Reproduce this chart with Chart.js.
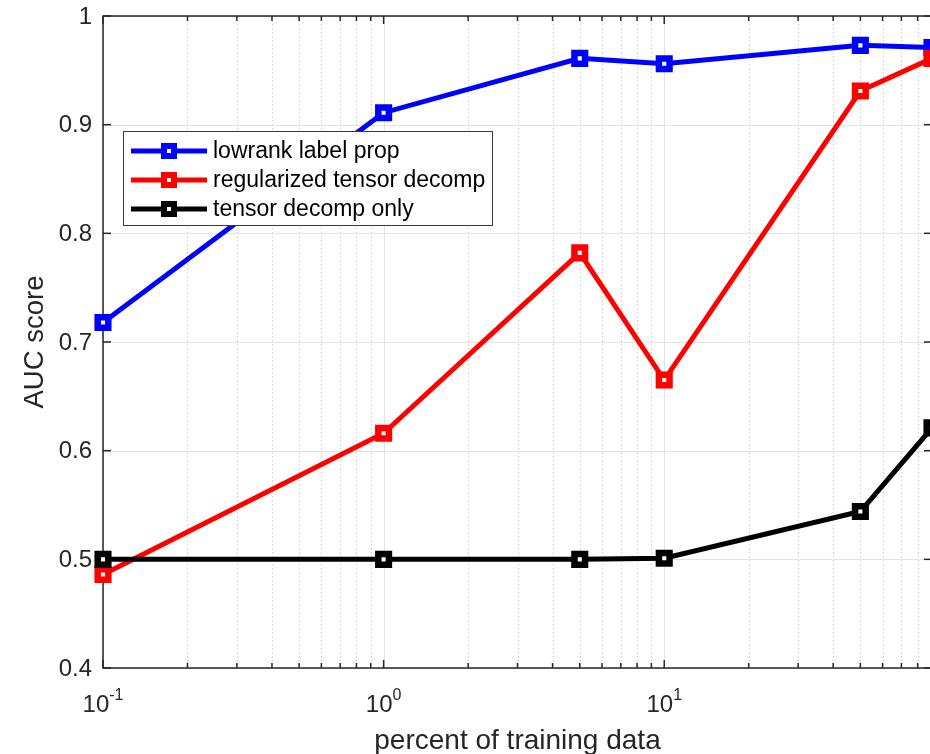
<!DOCTYPE html>
<html>
<head>
<meta charset="utf-8">
<script src="https://cdn.jsdelivr.net/npm/chart.js@4"></script>
<style>
  html, body { margin: 0; padding: 0; background: #fff; overflow: hidden; }
  #auc { display: block; }
</style>
</head>
<body>
<canvas id="auc" width="936" height="754"></canvas>
<script>
// percent of training data (log axis)
const trainPercent = [0.1, 1, 5, 10, 50, 90];

const lowrankLabelProp = [0.718, 0.911, 0.961, 0.956, 0.973, 0.971];
const regularizedTensorDecomp = [0.486, 0.616, 0.782, 0.665, 0.931, 0.961];
const tensorDecompOnly = [0.5, 0.5, 0.5, 0.501, 0.544, 0.621];

const seriesNames = ["lowrank label prop", "regularized tensor decomp", "tensor decomp only"];
const seriesColors = ["#0000ff", "#ff0000", "#000000"];

const yTicks = [0.4, 0.5, 0.6, 0.7, 0.8, 0.9, 1];
const yTickLabels = ["0.4", "0.5", "0.6", "0.7", "0.8", "0.9", "1"];
const xDecades = [0.1, 1, 10];
const xDecadeExponents = ["-1", "0", "1"];
const xMinorTicks = [0.2, 0.3, 0.4, 0.5, 0.6, 0.7, 0.8, 0.9,
                     2, 3, 4, 5, 6, 7, 8, 9,
                     20, 30, 40, 50, 60, 70, 80];

const FONT = "'Liberation Sans', Arial, Helvetica, sans-serif";
const AXIS = "#262626";

function toPoints(ys) {
  return ys.map((v, i) => ({ x: trainPercent[i], y: v }));
}

function seg(ctx, x1, y1, x2, y2) {
  ctx.beginPath();
  ctx.moveTo(x1, y1);
  ctx.lineTo(x2, y2);
  ctx.stroke();
}

// grid, box, inward ticks and tick labels (drawn under the lines)
const axesFrame = {
  id: "axesFrame",
  beforeDatasetsDraw(chart) {
    const { ctx, chartArea: a, scales: { x, y } } = chart;
    ctx.save();

    ctx.lineWidth = 1;
    ctx.strokeStyle = "#cfcfcf";
    ctx.setLineDash([1.5, 2.5]);
    xMinorTicks.forEach((v) => {
      const px = Math.round(x.getPixelForValue(v)) + 0.5;
      seg(ctx, px, a.top, px, a.bottom);
    });
    ctx.setLineDash([]);

    ctx.strokeStyle = "#e3e3e3";
    xDecades.forEach((v) => {
      const px = Math.round(x.getPixelForValue(v)) + 0.5;
      seg(ctx, px, a.top, px, a.bottom);
    });
    yTicks.forEach((v) => {
      const py = Math.round(y.getPixelForValue(v)) + 0.5;
      seg(ctx, a.left, py, a.right, py);
    });

    ctx.strokeStyle = AXIS;
    ctx.lineWidth = 1.5;
    ctx.strokeRect(a.left, a.top, a.right - a.left, a.bottom - a.top);

    // ticks point into the plot
    const major = 8, minor = 5;
    xDecades.forEach((v) => {
      const px = x.getPixelForValue(v);
      seg(ctx, px, a.bottom, px, a.bottom - major);
      seg(ctx, px, a.top, px, a.top + major);
    });
    xMinorTicks.forEach((v) => {
      const px = x.getPixelForValue(v);
      seg(ctx, px, a.bottom, px, a.bottom - minor);
      seg(ctx, px, a.top, px, a.top + minor);
    });
    yTicks.forEach((v) => {
      const py = y.getPixelForValue(v);
      seg(ctx, a.left, py, a.left + major, py);
      seg(ctx, a.right, py, a.right - major, py);
    });

    ctx.fillStyle = AXIS;
    ctx.font = "24px " + FONT;
    ctx.textAlign = "right";
    ctx.textBaseline = "middle";
    yTicks.forEach((v, i) => {
      ctx.fillText(yTickLabels[i], a.left - 11, y.getPixelForValue(v) + 1);
    });

    // 10^n labels with raised exponent
    ctx.textAlign = "left";
    ctx.textBaseline = "alphabetic";
    xDecades.forEach((v, i) => {
      ctx.font = "24px " + FONT;
      const wBase = ctx.measureText("10").width;
      ctx.font = "16px " + FONT;
      const wExp = ctx.measureText(xDecadeExponents[i]).width;
      const left = x.getPixelForValue(v) - (wBase + wExp) / 2;
      const base = a.bottom + 44;
      ctx.font = "24px " + FONT;
      ctx.fillText("10", left, base);
      ctx.font = "16px " + FONT;
      ctx.fillText(xDecadeExponents[i], left + wBase, base - 12);
    });

    ctx.font = "28px " + FONT;
    ctx.textAlign = "center";
    ctx.fillText("percent of training data", (a.left + a.right) / 2, a.bottom + 81);

    ctx.font = "27.5px " + FONT;
    ctx.translate(43, (a.top + a.bottom) / 2);
    ctx.rotate(-Math.PI / 2);
    ctx.fillText("AUC score", 0, 0);

    ctx.restore();
  },
  afterDatasetsDraw(chart) {
    const { ctx } = chart;
    const box = { x: 123.5, y: 131.5, w: 369, h: 94 };
    ctx.save();
    ctx.fillStyle = "#fff";
    ctx.fillRect(box.x, box.y, box.w, box.h);
    ctx.strokeStyle = "#3a3a3a";
    ctx.lineWidth = 1;
    ctx.strokeRect(box.x, box.y, box.w, box.h);

    ctx.font = "23px " + FONT;
    ctx.textAlign = "left";
    ctx.textBaseline = "middle";
    seriesNames.forEach((name, i) => {
      const cy = 151 + i * 29;
      ctx.strokeStyle = seriesColors[i];
      ctx.lineWidth = 5;
      seg(ctx, 131, cy, 207, cy);
      ctx.lineWidth = 6;
      ctx.fillStyle = "#fff";
      ctx.fillRect(164, cy - 5, 10, 10);
      ctx.strokeRect(164, cy - 5, 10, 10);
      ctx.fillStyle = "#000";
      ctx.fillText(name, 213, cy + 1);
    });
    ctx.restore();
  },
};

const datasetFor = (values, i) => ({
  label: seriesNames[i],
  data: toPoints(values),
  borderColor: seriesColors[i],
  backgroundColor: "#ffffff",
  borderWidth: 5,
  pointStyle: "rect",
  pointRadius: 7.5,
  pointBorderWidth: 6.5,
  pointBackgroundColor: "#ffffff",
  pointBorderColor: seriesColors[i],
  tension: 0,
  clip: false,
});

new Chart(document.getElementById("auc"), {
  type: "line",
  data: {
    datasets: [
      datasetFor(tensorDecompOnly, 2),
      datasetFor(regularizedTensorDecomp, 1),
      datasetFor(lowrankLabelProp, 0),
    ],
  },
  options: {
    responsive: false,
    animation: false,
    events: [],
    layout: { autoPadding: false, padding: { left: 103, top: 16, right: 4, bottom: 86 } },
    plugins: { legend: { display: false }, tooltip: { enabled: false } },
    scales: {
      x: { type: "logarithmic", min: 0.1, max: 90, display: false },
      y: { type: "linear", min: 0.4, max: 1, display: false },
    },
  },
  plugins: [axesFrame],
});
</script>
</body>
</html>
